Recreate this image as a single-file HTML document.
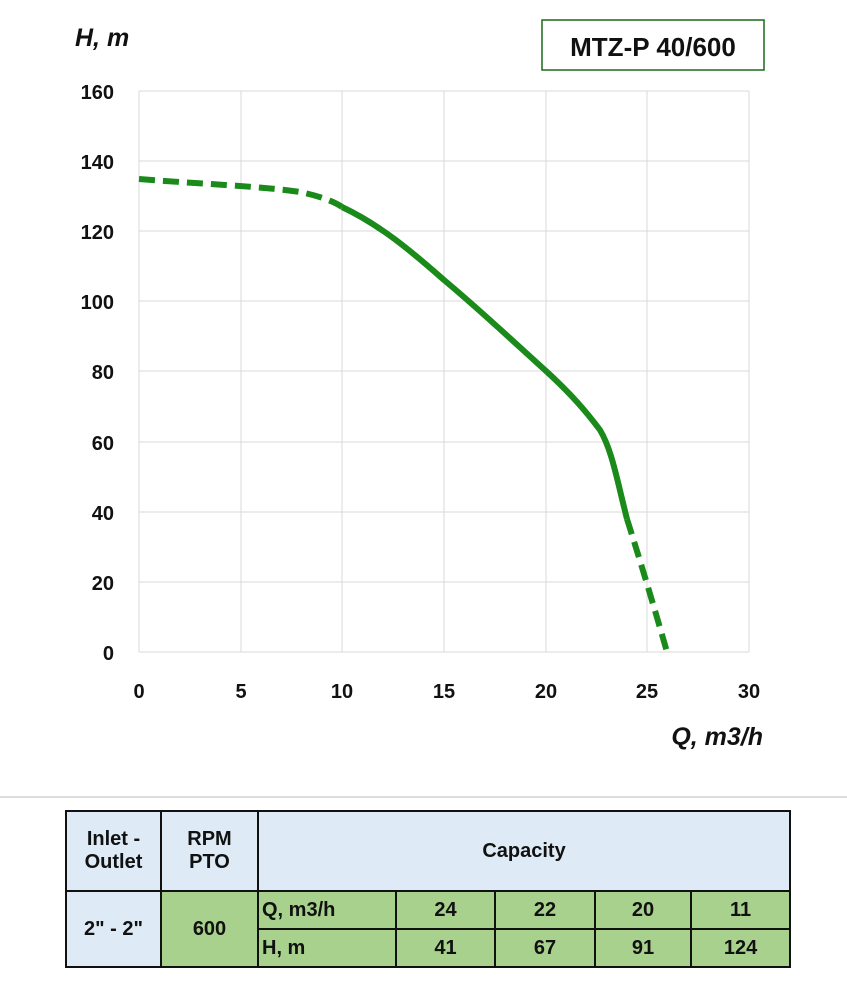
<!DOCTYPE html>
<html><head><style>
body{margin:0;width:847px;height:1000px;background:#fff;font-family:"Liberation Sans",sans-serif;position:relative;overflow:hidden}
table{position:absolute;left:65px;top:810px;width:724px;table-layout:fixed;border-collapse:collapse;font-family:"Liberation Sans",sans-serif;font-weight:bold;font-size:20px;color:#111}
td{border:2px solid #111;text-align:center;padding:0;overflow:hidden;white-space:nowrap}
.b{background:#deebf7}.g{background:#a9d18e}
</style></head><body>
<svg width="847" height="800" style="position:absolute;left:0;top:0">
<g stroke="#d9d9d9" stroke-width="1">
<line x1="139" y1="91" x2="749" y2="91"/><line x1="139" y1="161" x2="749" y2="161"/><line x1="139" y1="231" x2="749" y2="231"/><line x1="139" y1="301" x2="749" y2="301"/><line x1="139" y1="371" x2="749" y2="371"/><line x1="139" y1="442" x2="749" y2="442"/><line x1="139" y1="512" x2="749" y2="512"/><line x1="139" y1="582" x2="749" y2="582"/><line x1="139" y1="652" x2="749" y2="652"/>
<line x1="139" y1="91" x2="139" y2="652"/><line x1="241" y1="91" x2="241" y2="652"/><line x1="342" y1="91" x2="342" y2="652"/><line x1="444" y1="91" x2="444" y2="652"/><line x1="546" y1="91" x2="546" y2="652"/><line x1="647" y1="91" x2="647" y2="652"/><line x1="749" y1="91" x2="749" y2="652"/>
</g>
<g fill="none" stroke="#1a8a1a" stroke-width="6">
<path d="M139,179 C200,184 260,186 300,192 C320,196 335,202 342,207" stroke-dasharray="16,8"/>
<path d="M342,207 C380,225 410,250 444,280 C480,310 515,343 546,371 C570,393 585,410 600,430 C612,450 617,480 627,519"/>
<path d="M627,519 C640,560 655,610 667,652" stroke-dasharray="16,8"/>
</g>
<g font-family="Liberation Sans" font-weight="bold" font-size="20" fill="#111" text-anchor="end">
<text x="114" y="99">160</text><text x="114" y="169">140</text><text x="114" y="239">120</text><text x="114" y="309">100</text><text x="114" y="379">80</text><text x="114" y="450">60</text><text x="114" y="520">40</text><text x="114" y="590">20</text><text x="114" y="660">0</text>
</g>
<g font-family="Liberation Sans" font-weight="bold" font-size="20" fill="#111" text-anchor="middle">
<text x="139" y="698">0</text><text x="241" y="698">5</text><text x="342" y="698">10</text><text x="444" y="698">15</text><text x="546" y="698">20</text><text x="647" y="698">25</text><text x="749" y="698">30</text>
</g>
<text x="75" y="46" font-family="Liberation Sans" font-style="italic" font-weight="bold" font-size="25" fill="#111">H, m</text>
<text x="763" y="745" text-anchor="end" font-family="Liberation Sans" font-style="italic" font-weight="bold" font-size="25" fill="#111">Q, m3/h</text>
<rect x="542" y="20" width="222" height="50" fill="#fff" stroke="#1a6a1a" stroke-width="1.5"/>
<text x="653" y="56" text-anchor="middle" font-family="Liberation Sans" font-weight="bold" font-size="26" fill="#111">MTZ-P 40/600</text>
<line x1="0" y1="797" x2="847" y2="797" stroke="#ddd" stroke-width="2"/>
</svg>
<table>
<colgroup><col style="width:95px"><col style="width:97px"><col style="width:138px"><col style="width:99px"><col style="width:100px"><col style="width:96px"><col style="width:99px"></colgroup>
<tr style="height:80px"><td class="b">Inlet -<br>Outlet</td><td class="b">RPM<br>PTO</td><td class="b" colspan="5">Capacity</td></tr>
<tr style="height:38px"><td class="b" rowspan="2">2" - 2"</td><td class="g" rowspan="2">600</td><td class="g" style="text-align:left;padding-left:3px">Q, m3/h</td><td class="g">24</td><td class="g">22</td><td class="g">20</td><td class="g">11</td></tr>
<tr style="height:38px"><td class="g" style="text-align:left;padding-left:3px">H, m</td><td class="g">41</td><td class="g">67</td><td class="g">91</td><td class="g">124</td></tr>
</table>
</body></html>
